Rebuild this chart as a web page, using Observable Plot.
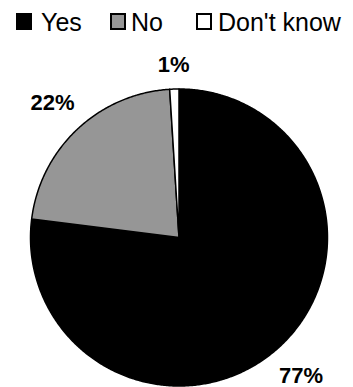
<!DOCTYPE html>
<html>
<head>
<meta charset="utf-8">
<script src="https://cdn.jsdelivr.net/npm/d3@7"></script>
<script src="https://cdn.jsdelivr.net/npm/@observablehq/plot@0.6"></script>
<style>
  html, body { margin: 0; padding: 0; background: #fff; }
  #wrap { position: relative; width: 353px; height: 387px; overflow: hidden; font-family: Arial, "Liberation Sans", sans-serif; }
  #legend { position: relative; width: 353px; height: 40px; }
  .sw { position: absolute; top: 13px; width: 16px; height: 17px; box-sizing: border-box; border: 2px solid #000; }
  .lt { position: absolute; top: 10px; font-size: 25px; line-height: 25px; color: #000; white-space: nowrap; }
  svg { display: block; }
</style>
</head>
<body>
<div id="wrap">
  <div id="legend"></div>
  <div id="chart"></div>
</div>
<script>
const categories = ["Yes", "No", "Don't know"];
const values = [77, 22, 1];
const labels = ["77%", "22%", "1%"];
const colors = ["#000000", "#969696", "#ffffff"];

// Legend (HTML, above the SVG)
const legend = document.getElementById("legend");
const swatchLeft = [16, 110, 196];
const textLeft = [41, 131, 218];
categories.forEach((c, i) => {
  const s = document.createElement("div");
  s.className = "sw";
  s.style.left = swatchLeft[i] + "px";
  s.style.background = colors[i];
  legend.appendChild(s);
  const t = document.createElement("div");
  t.className = "lt";
  t.style.left = textLeft[i] + "px";
  t.textContent = c;
  legend.appendChild(t);
});

// Pie geometry from the data
const arcs = d3.pie().sort(null).startAngle(0).endAngle(2 * Math.PI)(values);
const step = Math.PI / 360;
const polyPoints = [];
arcs.forEach((a, i) => {
  polyPoints.push({cat: categories[i], x: 0, y: 0});
  const n = Math.max(2, Math.ceil((a.endAngle - a.startAngle) / step));
  for (let k = 0; k <= n; k++) {
    const t = a.startAngle + (a.endAngle - a.startAngle) * k / n;
    polyPoints.push({cat: categories[i], x: Math.sin(t), y: Math.cos(t)});
  }
  polyPoints.push({cat: categories[i], x: 0, y: 0});
});

// Outside-end labels
const R = 148.5;          // pixel radius (for label offset)
const fontSize = 22;
const labelPts = arcs.map((a, i) => {
  const m = (a.startAngle + a.endAngle) / 2;
  const sx = Math.sin(m), cy = Math.cos(m);
  const w = labels[i].length * 0.67 * fontSize, h = fontSize;
  const extent = Math.abs(sx) * w / 2 + Math.abs(cy) * h / 2;
  const d = (R + 13 + extent) / R;
  return {label: labels[i], x: sx * d, y: cy * d};
});

const chart = Plot.plot({
  width: 353,
  height: 347,
  marginLeft: 30,
  marginRight: 26,
  marginTop: 48.5,
  marginBottom: 1.5,
  x: {domain: [-1, 1], axis: null},
  y: {domain: [-1, 1], axis: null},
  color: {domain: categories, range: colors},
  style: {background: "#fff", overflow: "visible", fontFamily: "Arial, 'Liberation Sans', sans-serif"},
  marks: [
    Plot.line(polyPoints, {
      x: "x", y: "y", z: "cat", fill: "cat",
      stroke: "#000", strokeWidth: 1.5, strokeLinejoin: "round", curve: "linear"
    }),
    Plot.text(labelPts, {
      x: "x", y: "y", text: "label",
      fontSize: fontSize, fontWeight: "bold", fill: "#000", textAnchor: "middle"
    })
  ]
});
document.getElementById("chart").appendChild(chart);
</script>
</body>
</html>
